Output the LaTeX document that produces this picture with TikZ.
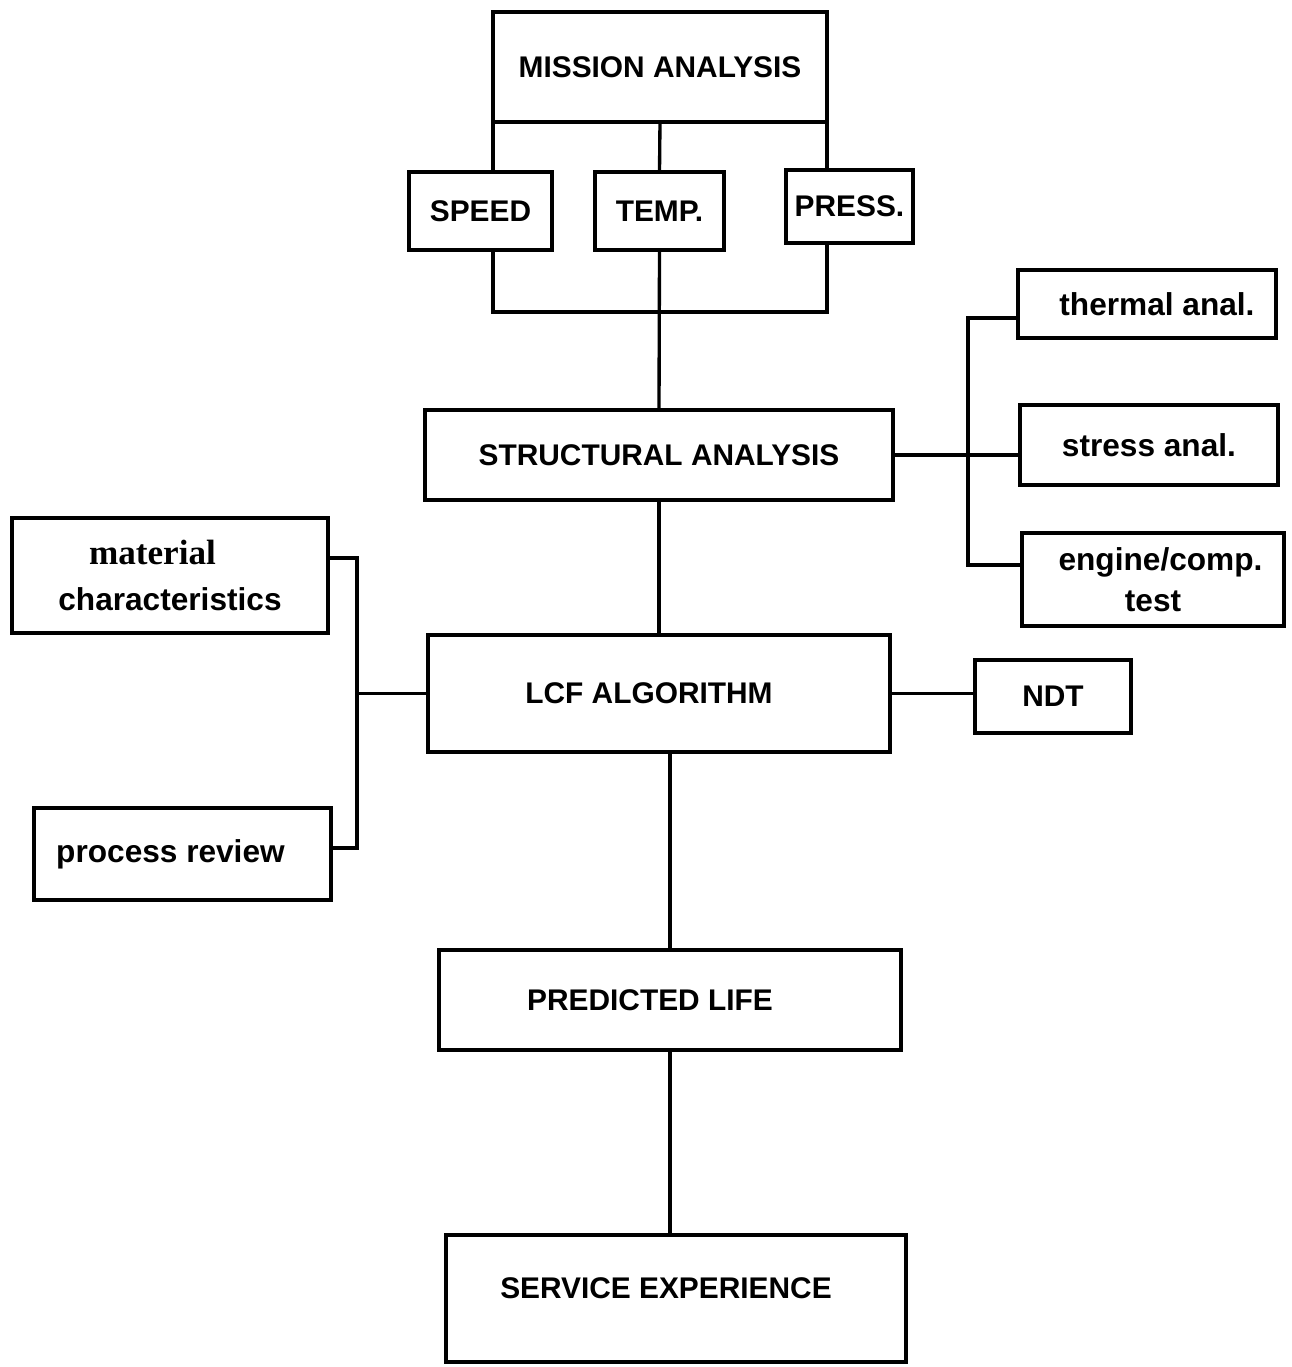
\documentclass[tikz,border=0pt]{standalone}
\usepackage{fontspec}
\usepackage{tikz}
\setsansfont{Liberation Sans}
\newfontfamily\matfont{Liberation Serif}

\begin{document}
\begin{tikzpicture}[x=0.02cm, y=-0.02cm, line width=1.9pt,
    blok/.style={draw, rectangle, inner sep=0pt, outer sep=0pt, align=center,
      font=\sffamily\bfseries\fontsize{17}{21}\selectfont},
    klein/.style={font=\sffamily\bfseries\fontsize{18}{23}\selectfont}]
    \useasboundingbox (0,0) rectangle (1292,1367);
    % mission and its three parameters
    \node[blok, minimum width=6.68cm, minimum height=2.2cm] (mission) at (660,67) {MISSION ANALYSIS};
    \node[blok, minimum width=2.86cm, minimum height=1.56cm] (speed) at (480.5,211) {SPEED};
    \node[blok, minimum width=2.58cm, minimum height=1.56cm] (temp) at (659.5,211) {TEMP.};
    \node[blok, minimum width=2.54cm, minimum height=1.46cm] (press) at (849.5,206.5) {PRESS.};
    \node[blok, minimum width=9.36cm, minimum height=1.8cm] (struct) at (659,455) {STRUCTURAL ANALYSIS};
    % right hand inputs
    \node[blok, klein, minimum width=5.16cm, minimum height=1.36cm] (thermal) at (1147,304) {\hspace*{0.4cm}thermal anal.};
    \node[blok, klein, minimum width=5.16cm, minimum height=1.6cm] (stress) at (1149,445) {stress anal.};
    \node[blok, klein, minimum width=5.24cm, minimum height=1.86cm] (engine) at (1153,579.5) {\hspace*{0.3cm}engine/comp.\\test};
    \node[blok, minimum width=9.24cm, minimum height=2.34cm] (lcf) at (659,693.5) {LCF ALGORITHM\hspace*{0.4cm}};
    \node[blok, minimum width=3.12cm, minimum height=1.46cm] (ndt) at (1053,696.5) {NDT};
    % left hand inputs
    \node[blok, klein, minimum width=6.32cm, minimum height=2.3cm] (mat) at (170,575.5)
        {{\matfont\bfseries\fontsize{20}{24}\selectfont material}\hspace*{0.7cm}\\[3pt]characteristics};
    \node[blok, klein, minimum width=5.94cm, minimum height=1.84cm] (proc) at (182.5,854) {process review\hspace*{0.48cm}};
    \node[blok, minimum width=9.24cm, minimum height=2.0cm] (pred) at (670,1000) {PREDICTED LIFE\hspace*{0.8cm}};
    \node[blok, minimum width=9.2cm, minimum height=2.54cm] (serv) at (676,1298.5) {\raisebox{0.4cm}{SERVICE EXPERIENCE}\hspace*{0.4cm}};

    \coordinate (jl) at (493,312);
    \coordinate (jr) at (827,312);
    \coordinate (rt) at (968,318);
    \coordinate (rb) at (968,565);
    \coordinate (lt) at (357,558);
    \coordinate (lb) at (357,848);

    \draw (mission.south west) -- (mission.south west |- speed.north);
    \draw (mission.south) -- (temp.north);
    \draw (mission.south east) -- (mission.south east |- press.north);
    \draw (speed.south -| jl) -- (jl) -- (jr) -- (press.south -| jr);
    \draw (temp.south) -- (struct.north);
    \draw (rt -| thermal.west) -- (rt) -- (rb) -- (rb -| engine.west);
    \draw (struct.east) -- (struct.east -| stress.west);
    \draw (struct.south) -- (struct.south |- lcf.north);
    \draw (lcf.east) -- (lcf.east -| ndt.west);
    \draw (lt -| mat.east) -- (lt) -- (lb) -- (lb -| proc.east);
    \draw (lcf.west) -- (lcf.west -| lt);
    \draw (pred.north |- lcf.south) -- (pred.north);
    \draw (pred.south) -- (pred.south |- serv.north);
\end{tikzpicture}
\end{document}
